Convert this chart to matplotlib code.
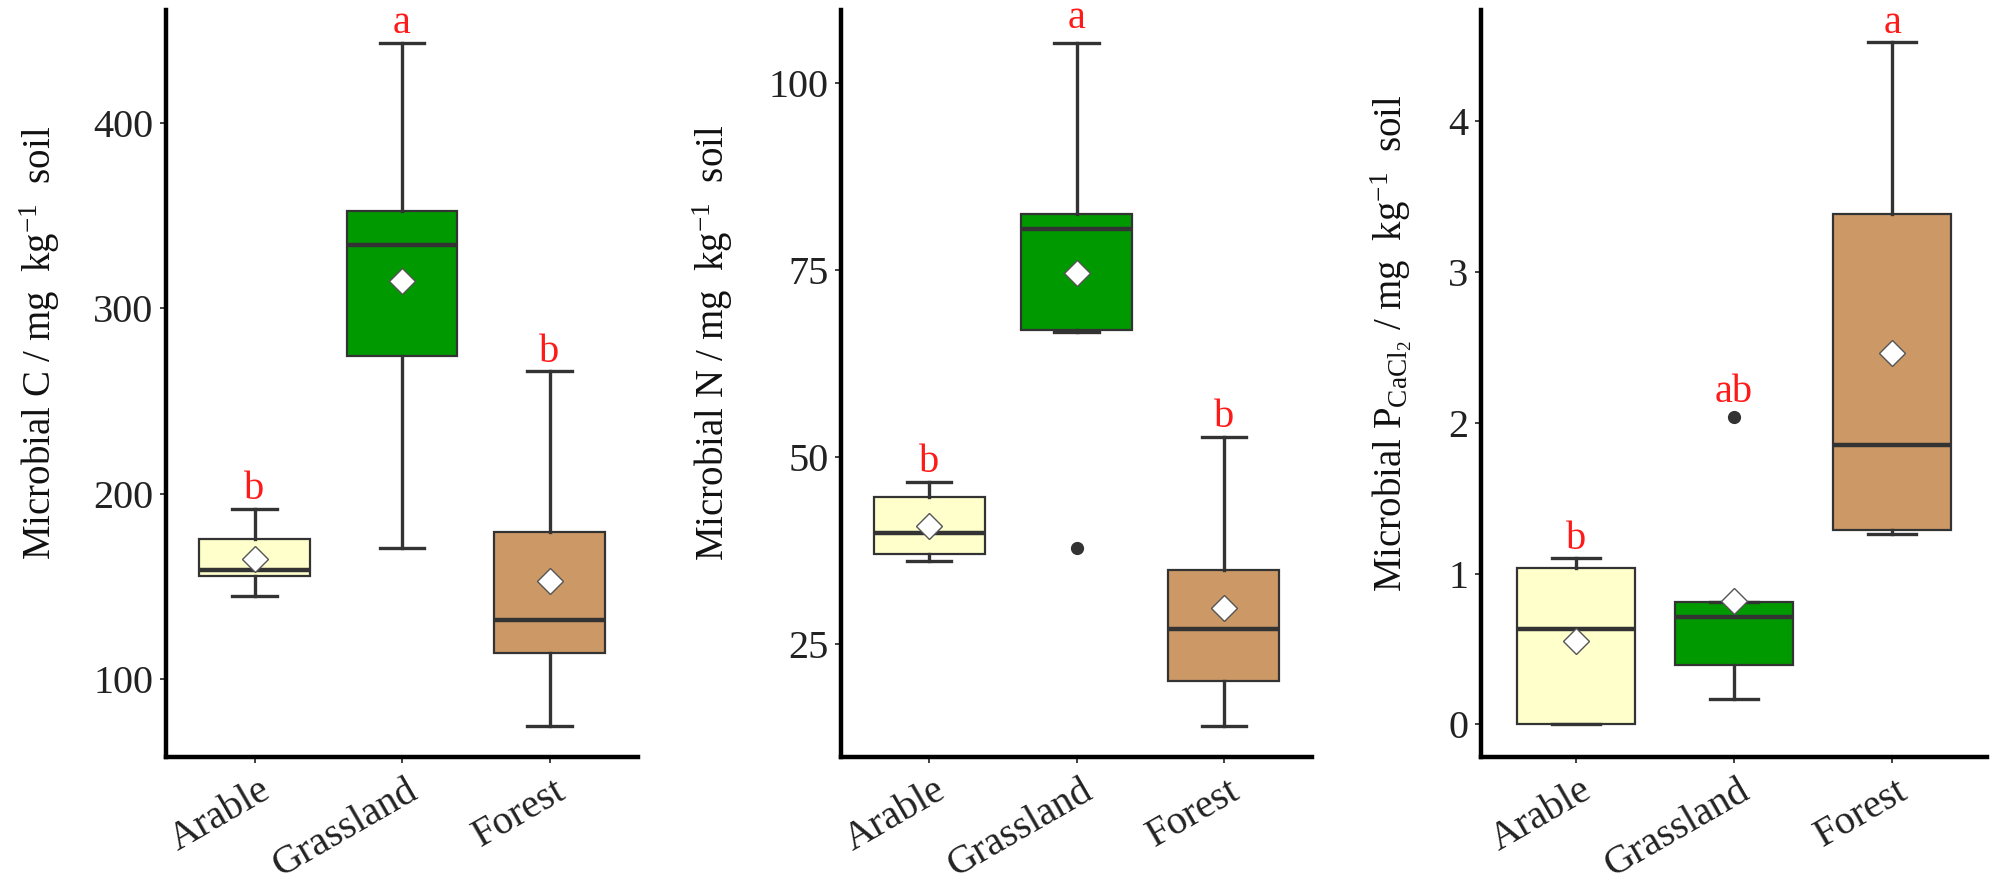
import matplotlib
matplotlib.use("Agg")
import matplotlib.pyplot as plt
from matplotlib.transforms import ScaledTranslation

plt.rcParams['font.family'] = ['Liberation Serif', 'DejaVu Serif']
plt.rcParams['mathtext.fontset'] = 'custom'
plt.rcParams['mathtext.rm'] = 'Liberation Serif'
plt.rcParams['mathtext.it'] = 'Liberation Serif:italic'
plt.rcParams['mathtext.default'] = 'regular'

categories = ['Arable', 'Grassland', 'Forest']
box_colors = ['#FFFFCC', '#009900', '#CC9966']

# Microbial C
c_whislo = [145, 171, 75]
c_q1 = [155.5, 274, 114]
c_med = [159, 334, 132]
c_q3 = [175.5, 352.5, 179.5]
c_whishi = [192, 443, 266]
c_mean = [165, 314.5, 153]
c_fliers = [[], [], []]
c_letters = ['b', 'a', 'b']

# Microbial N
n_whislo = [36.1, 66.7, 14.1]
n_q1 = [37.0, 66.9, 20.0]
n_med = [39.8, 80.4, 27.0]
n_q3 = [44.6, 82.4, 34.9]
n_whishi = [46.7, 105.3, 52.7]
n_mean = [40.8, 74.5, 29.8]
n_fliers = [[], [37.8], []]
n_letters = ['b', 'a', 'b']

# Microbial P (CaCl2)
p_whislo = [0.0, 0.168, 1.26]
p_q1 = [0.0, 0.395, 1.29]
p_med = [0.634, 0.71, 1.85]
p_q3 = [1.036, 0.81, 3.38]
p_whishi = [1.10, 0.81, 4.52]
p_mean = [0.55, 0.82, 2.46]
p_fliers = [[], [2.035], []]
p_letters = ['b', 'ab', 'a']

W, H = 1995, 882
fig = plt.figure(figsize=(W / 100, H / 100), dpi=100)

panels = [
    dict(px=(166, 638), stats=(c_whislo, c_q1, c_med, c_q3, c_whishi, c_mean, c_fliers),
         letters=c_letters, ylim=(58.2, 460.7), yticks=[100, 200, 300, 400],
         ylabel=r'Microbial C / mg  kg$^{-1}$  soil', labx=40),
    dict(px=(841, 1312), stats=(n_whislo, n_q1, n_med, n_q3, n_whishi, n_mean, n_fliers),
         letters=n_letters, ylim=(9.9, 109.7), yticks=[25, 50, 75, 100],
         ylabel=r'Microbial N / mg  kg$^{-1}$  soil', labx=713),
    dict(px=(1481, 1987), stats=(p_whislo, p_q1, p_med, p_q3, p_whishi, p_mean, p_fliers),
         letters=p_letters, ylim=(-0.216, 4.735), yticks=[0, 1, 2, 3, 4],
         ylabel=r'Microbial P$_{\mathrm{CaCl}_2}$ / mg  kg$^{-1}$  soil', labx=1391),
]

top_px, bot_px = 10, 757
edge = '#333333'

for p in panels:
    l, r = p['px']
    ax = fig.add_axes([l / W, 1 - bot_px / H, (r - l) / W, (bot_px - top_px) / H])
    wl, q1, md, q3, wh, mn, fl = p['stats']
    stats = []
    for i in range(3):
        stats.append(dict(whislo=wl[i], q1=q1[i], med=md[i], q3=q3[i], whishi=wh[i],
                          mean=mn[i], fliers=fl[i], label=categories[i]))
    pos = [1, 2, 3]
    bp = ax.bxp(stats, positions=pos, widths=0.75, patch_artist=True, showmeans=True,
                capwidths=0.3,
                boxprops=dict(edgecolor=edge, linewidth=1.6),
                medianprops=dict(color=edge, linewidth=3.2, solid_capstyle='butt'),
                whiskerprops=dict(color=edge, linewidth=2.4),
                capprops=dict(color=edge, linewidth=2.4),
                flierprops=dict(marker='o', markersize=8.5, markerfacecolor=edge,
                                markeredgecolor=edge),
                meanprops=dict(marker='D', markersize=13.5, markerfacecolor='white',
                               markeredgecolor='#555555', markeredgewidth=1.0))
    for patch, col in zip(bp['boxes'], box_colors):
        patch.set_facecolor(col)
    for m in bp['means']:
        m.set_zorder(5)

    for i in range(3):
        top = max([wh[i]] + list(fl[i]))
        extra = 4 if fl[i] else 0
        ax.annotate(p['letters'][i], xy=(pos[i], top), xytext=(0, 7 + extra),
                    textcoords='offset points', ha='center', va='baseline',
                    color='#FF1A1A', fontsize=29)

    ax.set_xlim(0.4, 3.6)
    ax.set_ylim(*p['ylim'])
    ax.set_yticks(p['yticks'])
    ax.set_xticks(pos)
    ax.set_xticklabels(categories)
    for s in ['top', 'right']:
        ax.spines[s].set_visible(False)
    for s in ['left', 'bottom']:
        ax.spines[s].set_linewidth(3.2)
        ax.spines[s].set_color('black')
    ax.tick_params(axis='both', length=4, width=1.3, color=edge, labelsize=29,
                   labelcolor='#222222')
    ax.tick_params(axis='y', pad=5)
    ax.tick_params(axis='x', pad=7)
    for lab in ax.get_xticklabels():
        lab.set_rotation(30)
        lab.set_ha('right')
        lab.set_va('top')
        lab.set_rotation_mode('anchor')
        lab.set_transform(lab.get_transform() + ScaledTranslation(0.04, 0, fig.dpi_scale_trans))
    ax.set_ylabel(p['ylabel'], fontsize=28, color='#111111')
    ax.yaxis.label.set_va('center')
    ax.yaxis.set_label_coords((p['labx'] - l) / (r - l), 0.554)

fig.savefig('out.png', dpi=100)
